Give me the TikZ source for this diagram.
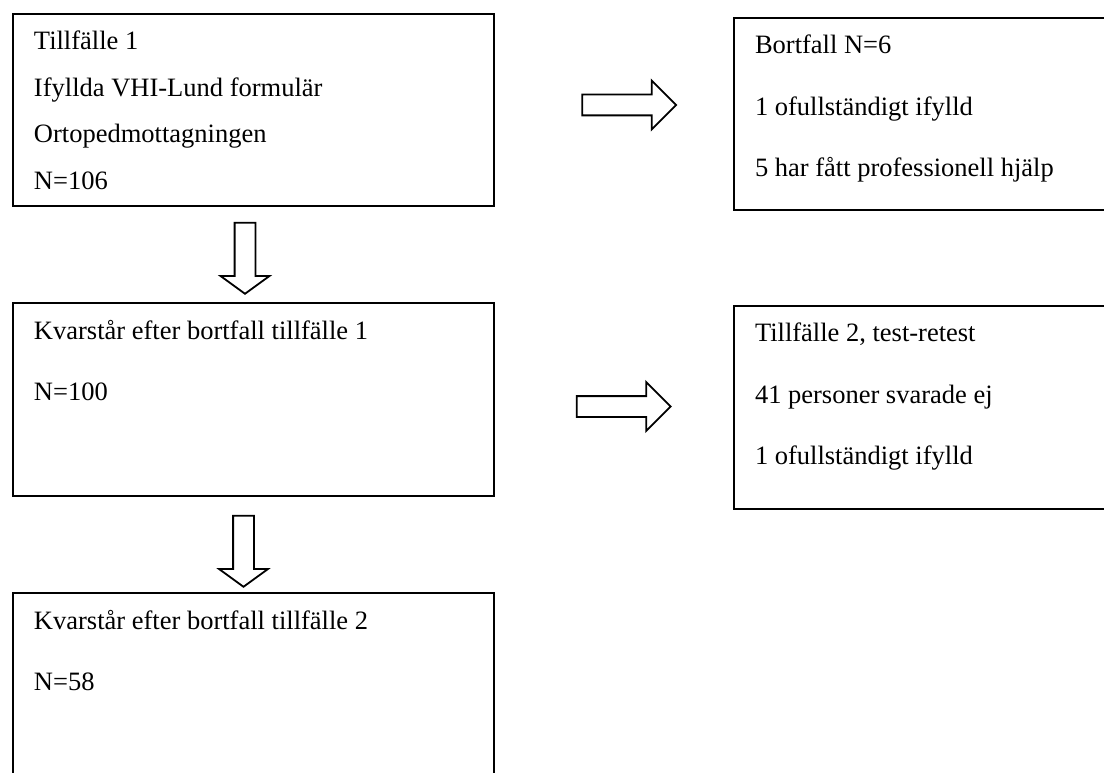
\documentclass[tikz,border=0pt]{standalone}
\usepackage{fontspec}
\setmainfont{Liberation Serif}
\usetikzlibrary{calc,positioning,shapes.arrows}

\tikzset{
  box/.style={draw, rectangle, line width=2pt, inner xsep=21pt, inner ysep=17pt, font=\fontsize{26.5}{46.5}\selectfont},
  wide/.style={font=\fontsize{26.5}{61.5}\selectfont},
  barrow/.style={single arrow, draw, line width=1.8pt, inner sep=9.5pt, single arrow head extend=14pt},
}
\newcommand{\boxtext}[3]{\parbox[t][#1][t]{#2}{\rule{0pt}{18pt}#3}}

\begin{document}
\begin{tikzpicture}[x=1pt, y=-1pt]
\clip (0,0) rectangle (1104,773);

\begin{scope}[node distance=95pt]
\node[box, anchor=north west] (s1) at (12,13) {\boxtext{158pt}{439pt}{Tillfälle 1\\Ifyllda VHI-Lund formulär\\Ortopedmottagningen\\N=106}};
\node[box, wide] (s2) [below=of s1] {\boxtext{159pt}{439pt}{Kvarstår efter bortfall tillfälle 1\\N=100}};
\node[box, wide] (s3) [below=of s2] {\boxtext{186pt}{439pt}{Kvarstår efter bortfall tillfälle 2\\N=58}};
\end{scope}

\begin{scope}[node distance=238pt]
\node[box, wide] (d1) [right=of s1, yshift=-4pt] {\boxtext{158pt}{380pt}{Bortfall N=6\\1 ofullständigt ifylld\\5 har fått professionell hjälp}};
\end{scope}
\node[box, wide] (d2) [below=94pt of d1] {\boxtext{169pt}{380pt}{Tillfälle 2, test-retest\\41 personer svarade ej\\1 ofullständigt ifylld}};

\node[barrow, rotate=-90, minimum height=71pt, single arrow tip angle=108] (a1) at ($(s1.south)!0.5!(s2.north)+(-8.5,0)$) {};
\node[barrow, rotate=-90, minimum height=71pt, single arrow tip angle=108] (a2) at ($(s2.south)!0.5!(s3.north)+(-10,3)$) {};
\node[barrow, minimum height=94pt, single arrow tip angle=90] (a3) at ($(s1.east)!0.5!(d1.west)+(10,-7)$) {};
\node[barrow, minimum height=94pt, single arrow tip angle=90] (a4) at ($(s2.east)!0.5!(d2.west)+(4.5,3)$) {};

\end{tikzpicture}
\end{document}
